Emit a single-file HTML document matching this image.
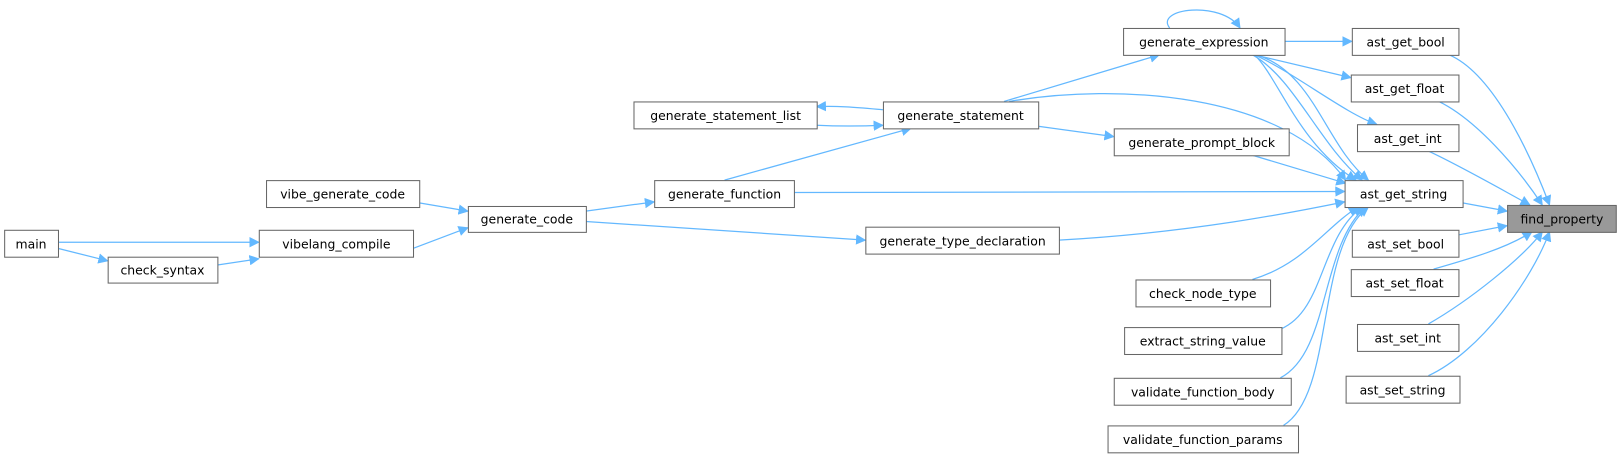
<!DOCTYPE html>
<html><head><meta charset="utf-8"><style>
html,body{margin:0;padding:0;background:#fff;}
svg{display:block;}
text{font-family:"DejaVu Sans","Liberation Sans",sans-serif;font-size:12px;fill:#000;}
.n{fill:#fff;stroke:#666;stroke-width:1;}
.e{fill:none;stroke:#63b8ff;stroke-width:1.2;}
</style></head><body>
<svg width="1623" height="461" viewBox="0 0 1568 445.4" preserveAspectRatio="none" xmlns="http://www.w3.org/2000/svg">
<defs><marker id="a" viewBox="0 0 10 10" refX="9" refY="5" markerWidth="10" markerHeight="10" markerUnits="userSpaceOnUse" orient="auto"><path d="M0,0 L10,5 L0,10 z" fill="#63b8ff"/></marker></defs>
<g class="e" marker-end="url(#a)">
<path d="M1400,53 C1440,70 1475,140 1497,198"/>
<path d="M1390,98 C1425,115 1465,160 1490,198"/>
<path d="M1380,146 C1410,160 1445,180 1478,198"/>
<path d="M1413,196 L1456,204"/>
<path d="M1409,227 L1456,218"/>
<path d="M1385,260 C1420,250 1455,240 1480,224"/>
<path d="M1380,313 C1420,290 1470,250 1490,224"/>
<path d="M1380,363 C1430,340 1480,270 1497,224"/>
<path d="M1210,53 C1250,75 1275,140 1316,174"/>
<path d="M1212,53 C1235,75 1255,140 1310,174"/>
<path d="M1214,53 C1270,70 1280,140 1322,174"/>
<path d="M975,98 C1080,80 1240,90 1300,174"/>
<path d="M1210,150 L1300,177"/>
<path d="M767,186 L1299,185"/>
<path d="M1023,232 C1150,225 1250,205 1299,195"/>
<path d="M1210,270 C1260,255 1280,220 1312,200"/>
<path d="M1237,318 C1280,300 1275,230 1316,200"/>
<path d="M1237,365 C1285,340 1275,240 1319,200"/>
<path d="M1240,411 C1290,380 1270,240 1322,200"/>
<path d="M1241,40 L1306,40"/>
<path d="M1212,53 L1305,75"/>
<path d="M1212,53 C1250,70 1300,110 1330,120"/>
<path d="M1130,27 C1115,8 1180,0 1198,27"/>
<path d="M970,98 L1120,53"/>
<path d="M853,106 C830,104 810,102 789,103"/>
<path d="M789,121 C810,122 830,122 853,121"/>
<path d="M1003,122 L1076,132"/>
<path d="M700,174 L880,124"/>
<path d="M566,204 L632,195"/>
<path d="M566,214 L836,232"/>
<path d="M405,196 L452,204"/>
<path d="M399,240 L452,220"/>
<path d="M56,234 L250,234"/>
<path d="M56,240 L104,252"/>
<path d="M210,256 L250,250"/>
</g>
<g>
<rect class="n" x="4.5" y="222.5" width="52" height="26"/><text x="30" y="240" text-anchor="middle">main</text>
<rect class="n" x="104.5" y="248.5" width="106" height="25"/><text x="157" y="265" text-anchor="middle">check_syntax</text>
<rect class="n" x="257.5" y="174.5" width="148" height="26"/><text x="331" y="192" text-anchor="middle">vibe_generate_code</text>
<rect class="n" x="250.5" y="222.5" width="149" height="26"/><text x="325" y="240" text-anchor="middle">vibelang_compile</text>
<rect class="n" x="452.5" y="199.5" width="114" height="25"/><text x="509" y="216" text-anchor="middle">generate_code</text>
<rect class="n" x="632.5" y="174.5" width="135" height="26"/><text x="700" y="192" text-anchor="middle">generate_function</text>
<rect class="n" x="836.5" y="219.5" width="187" height="26"/><text x="930" y="237" text-anchor="middle">generate_type_declaration</text>
<rect class="n" x="612.5" y="98.5" width="177" height="26"/><text x="701" y="116" text-anchor="middle">generate_statement_list</text>
<rect class="n" x="853.5" y="98.5" width="150" height="26"/><text x="928" y="116" text-anchor="middle">generate_statement</text>
<rect class="n" x="1076.5" y="124.5" width="169" height="26"/><text x="1161" y="142" text-anchor="middle">generate_prompt_block</text>
<rect class="n" x="1085.5" y="27.5" width="156" height="26"/><text x="1163" y="45" text-anchor="middle">generate_expression</text>
<rect class="n" x="1306.5" y="27.5" width="103" height="26"/><text x="1358" y="45" text-anchor="middle">ast_get_bool</text>
<rect class="n" x="1305.5" y="72.5" width="104" height="26"/><text x="1357" y="90" text-anchor="middle">ast_get_float</text>
<rect class="n" x="1311.5" y="120.5" width="98" height="26"/><text x="1360" y="138" text-anchor="middle">ast_get_int</text>
<rect class="n" x="1299.5" y="174.5" width="114" height="26"/><text x="1356" y="192" text-anchor="middle">ast_get_string</text>
<rect x="1456.5" y="198.5" width="105" height="26" fill="#999" stroke="#666"/><text x="1509" y="216" text-anchor="middle">find_property</text>
<rect class="n" x="1306.5" y="222.5" width="103" height="26"/><text x="1358" y="240" text-anchor="middle">ast_set_bool</text>
<rect class="n" x="1305.5" y="260.5" width="104" height="26"/><text x="1357" y="278" text-anchor="middle">ast_set_float</text>
<rect class="n" x="1311.5" y="313.5" width="98" height="26"/><text x="1360" y="331" text-anchor="middle">ast_set_int</text>
<rect class="n" x="1300.5" y="363.5" width="110" height="26"/><text x="1355" y="381" text-anchor="middle">ast_set_string</text>
<rect class="n" x="1097.5" y="270.5" width="130" height="26"/><text x="1162" y="288" text-anchor="middle">check_node_type</text>
<rect class="n" x="1086.5" y="316.5" width="152" height="26"/><text x="1162" y="334" text-anchor="middle">extract_string_value</text>
<rect class="n" x="1076.5" y="365.5" width="171" height="26"/><text x="1162" y="383" text-anchor="middle">validate_function_body</text>
<rect class="n" x="1070.5" y="411.5" width="184" height="26"/><text x="1162" y="429" text-anchor="middle">validate_function_params</text>
</g>
</svg>
</body></html>
